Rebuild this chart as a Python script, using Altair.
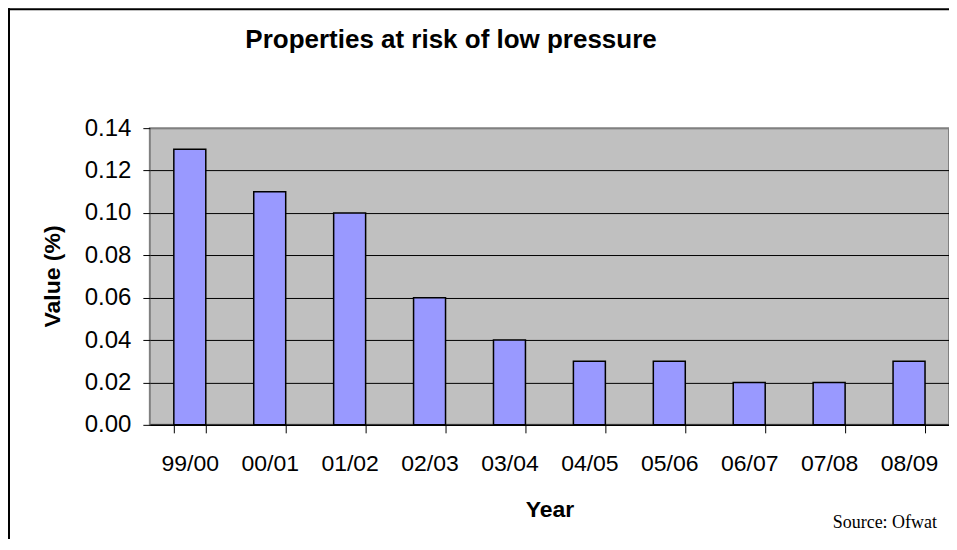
import altair as alt
import pandas as pd

years = ["99/00", "00/01", "01/02", "02/03", "03/04", "04/05", "05/06", "06/07", "07/08", "08/09"]
values = [0.13, 0.11, 0.10, 0.06, 0.04, 0.03, 0.03, 0.02, 0.02, 0.03]
y_ticks = [0.0, 0.02, 0.04, 0.06, 0.08, 0.10, 0.12, 0.14]
title_text = "Properties at risk of low pressure"
source_text = "Source: Ofwat"

df = pd.DataFrame({"Year": years, "Value": values})

SANS = "Liberation Sans, Arial, sans-serif"
SERIF = "Liberation Serif, Times New Roman, serif"

bars = alt.Chart(df).mark_bar(
    color="#9999FF", stroke="black", strokeWidth=1.5
).encode(
    x=alt.X("Year:N", sort=years,
            scale=alt.Scale(paddingInner=0.6, paddingOuter=0.3),
            axis=alt.Axis(
                title="Year", labelAngle=0, tickBand="extent",
                tickSize=8, tickColor="black", tickWidth=1,
                domainColor="black", domainWidth=1.5,
                labelFont=SANS, labelFontSize=23, labelColor="black",
                labelBaseline="alphabetic", labelPadding=38,
                titleFont=SANS, titleFontSize=23, titleFontWeight="bold",
                titleColor="black", titleBaseline="alphabetic", titleY=92,
                grid=False)),
    y=alt.Y("Value:Q",
            scale=alt.Scale(domain=[0, 0.14], nice=False),
            axis=alt.Axis(
                title="Value (%)", values=y_ticks, format=".2f",
                tickSize=7, tickColor="black", tickWidth=1,
                domain=False,
                labelFont=SANS, labelFontSize=24, labelColor="black",
                labelPadding=12,
                grid=True,
                gridColor={"condition": {"test": "datum.value > 0.139", "value": "#808080"}, "value": "black"},
                gridWidth=1, gridOpacity=1,
                titleFont=SANS, titleFontSize=23, titleFontWeight="bold",
                titleColor="black", titleAngle=270, titleAlign="center",
                titleBaseline="middle", titleX=-97, titleY=148)),
)

one_df = pd.DataFrame({"k": [0]})

frame_left = alt.Chart(one_df).mark_rule(
    color="black", strokeWidth=2, clip=False
).encode(
    x=alt.value(-141), y=alt.value(-120), y2=alt.value(440),
)
frame_top = alt.Chart(one_df).mark_rule(
    color="black", strokeWidth=2, clip=False
).encode(
    x=alt.value(-142), x2=alt.value(820), y=alt.value(-119),
)

title = alt.Chart(one_df).mark_text(
    align="center", baseline="alphabetic", font=SANS, fontSize=26,
    fontWeight="bold", color="black"
).encode(
    x=alt.value(301.5), y=alt.value(-80), text=alt.value(title_text)
)

source = alt.Chart(one_df).mark_text(
    align="right", baseline="alphabetic", font=SERIF, fontSize=18, color="black"
).encode(
    x=alt.value(788), y=alt.value(400), text=alt.value(source_text)
)

chart = alt.layer(bars, title, source, frame_left, frame_top).properties(
    width=800, height=297,
    autosize=alt.AutoSizeParams(type="none"),
    padding={"left": 142, "top": 120, "right": 0, "bottom": 114},
).configure_view(
    fill="#C0C0C0", stroke="#808080", strokeWidth=2
)

chart.save("out.html", embed_options={"renderer": "svg", "actions": False})
